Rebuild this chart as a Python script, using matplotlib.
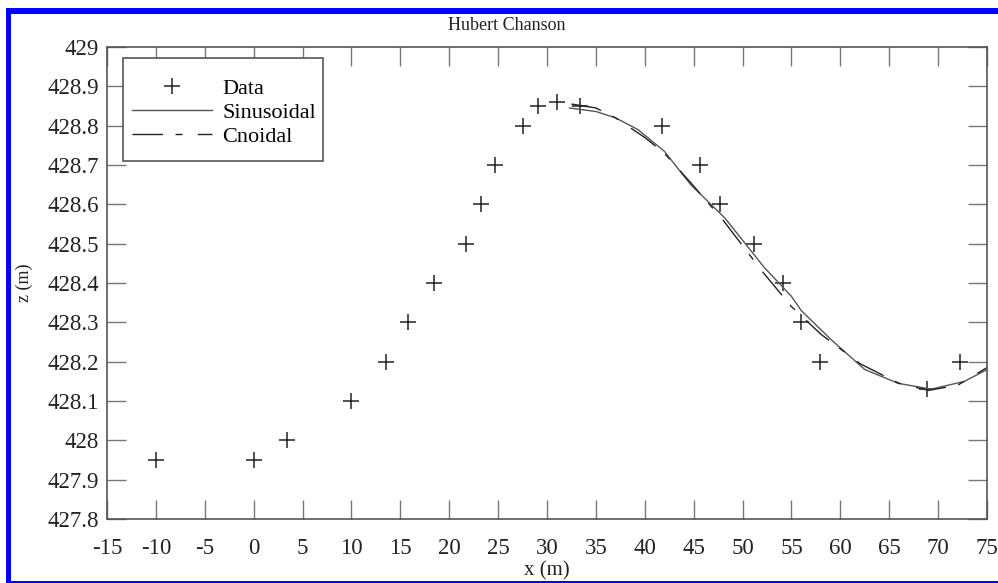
import numpy as np
import matplotlib
matplotlib.use("Agg")
import matplotlib.pyplot as plt
from matplotlib.patches import Rectangle

plt.rcParams['font.family'] = ['Liberation Serif', 'DejaVu Serif']
plt.rcParams['axes.unicode_minus'] = False

# measured data points
data_x = [-10, 0, 3.4, 10, 13.5, 15.8, 18.4, 21.7, 23.2, 24.7, 27.5, 29.1, 31.0,
          33.4, 41.8, 45.6, 47.7, 51.2, 54.1, 56.0, 57.9, 68.9, 72.2]
data_z = [427.95, 427.95, 428.0, 428.1, 428.2, 428.3, 428.4, 428.5, 428.6, 428.7,
          428.8, 428.85, 428.86, 428.85, 428.8, 428.7, 428.6, 428.5, 428.4, 428.3,
          428.2, 428.13, 428.2]

# sinusoidal fit
sin_x = [32.3, 35, 37, 39.3, 42, 44.7, 48.2, 52.2, 55, 56, 59.1, 62.5, 65.9, 69.3, 72.7, 75]
sin_z = [428.845, 428.836, 428.82, 428.79, 428.735, 428.65, 428.565, 428.44, 428.366,
         428.33, 428.255, 428.18, 428.145, 428.13, 428.15, 428.18]

# cnoidal fit
cn_x = [32.5, 35, 37, 40, 42, 44.7, 48, 52, 55, 58, 62, 66, 69, 72, 75]
cn_z = [428.855, 428.845, 428.82, 428.77, 428.73, 428.655, 428.56, 428.43, 428.34,
        428.27, 428.195, 428.145, 428.127, 428.14, 428.185]

xticks = np.arange(-15, 76, 5)
yticks = np.round(np.arange(427.8, 429.01, 0.1), 1)
ytick_labels = ['%g' % v for v in yticks]

fig = plt.figure(figsize=(9.98, 5.83), dpi=100)
ax = fig.add_axes([107/998, 1 - 519/583, 880/998, 472/583])

ax.plot(data_x, data_z, linestyle='none', marker='+', markersize=12,
        markeredgewidth=1.1, color='#222222', label='Data')
ax.plot(sin_x, sin_z, color='#555555', linewidth=1.0, label='Sinusoidal')
ax.plot(cn_x, cn_z, color='#222222', linewidth=1.0, dashes=(22, 9, 5, 11),
        label='Cnoidal')

ax.set_xlim(-15, 75)
ax.set_ylim(427.8, 429)
ax.set_xticks(xticks)
ax.set_yticks(yticks)
ax.set_yticklabels(ytick_labels)
ax.tick_params(direction='in', length=14, width=1, color='#777777',
               top=True, right=True, labelsize=16.5, labelcolor='#222222')
ax.tick_params(axis='y', pad=6)
ax.tick_params(axis='x', pad=14)
for s in ax.spines.values():
    s.set_color('#555555')
    s.set_linewidth(1.2)

ax.set_xlabel('x (m)', fontsize=15, labelpad=1, color='#222222')
ax.set_ylabel('z (m)', fontsize=13, labelpad=10, color='#222222')
fig.text(0.508, 1 - 25/583, 'Hubert Chanson', ha='center', va='center',
         fontsize=13, color='#222222')

# legend box drawn by hand, entries without frame
ax.add_patch(Rectangle((16/880, 358/472), 200/880, 103/472, transform=ax.transAxes,
                       facecolor='white', edgecolor='#555555', lw=1.2, zorder=4))
leg = ax.legend(loc='upper left', bbox_to_anchor=(25/880, 441/472), borderaxespad=0,
                fontsize=16, frameon=False, handlelength=3.6, borderpad=0,
                handletextpad=0.45, labelspacing=0.17)
leg.set_zorder(5)

# blue frame around the picture
blue = '#0000ff'
fig.add_artist(Rectangle((6/998, 0), 5/998, 1 - 8/583, transform=fig.transFigure,
                         color=blue, lw=0))
fig.add_artist(Rectangle((6/998, 1 - 14/583), 1, 6/583, transform=fig.transFigure,
                         color=blue, lw=0))
fig.add_artist(Rectangle((6/998, 0), 1, 2/583, transform=fig.transFigure,
                         color=blue, lw=0))

fig.savefig('out.png', dpi=100)
